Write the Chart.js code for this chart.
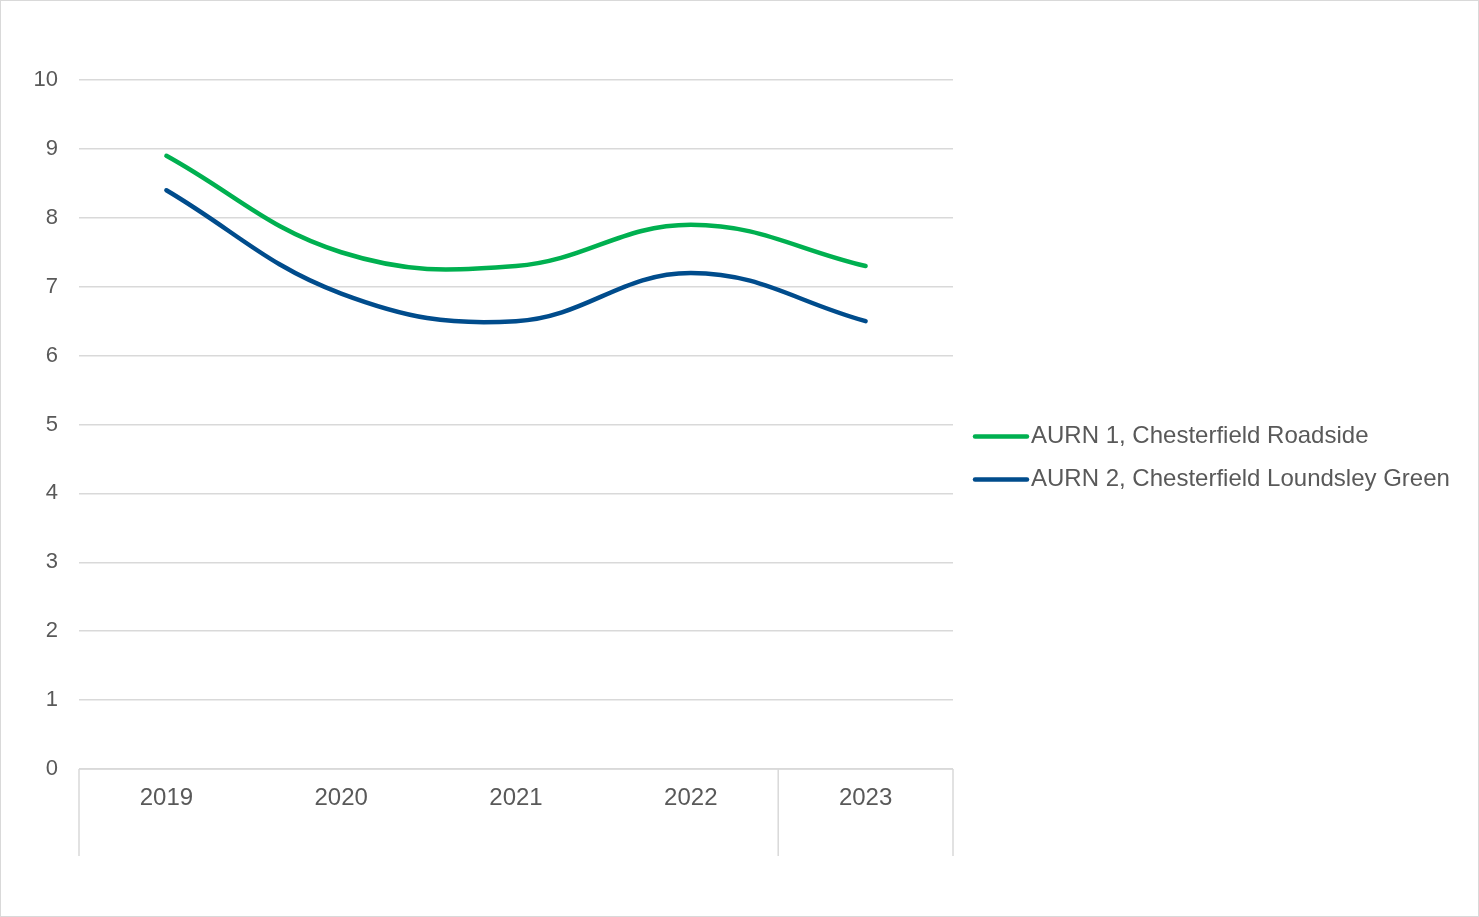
<!DOCTYPE html>
<html>
<head>
<meta charset="utf-8">
<script src="https://cdn.jsdelivr.net/npm/chart.js@4"></script>
<style>
  html, body { margin: 0; padding: 0; background: #fff; }
  #wrap { width: 1477px; height: 915px; border: 1px solid #d9d9d9; position: relative; }
</style>
</head>
<body>
<div id="wrap"><canvas id="myChart" width="1477" height="915"></canvas></div>
<script>
const years = ["2019", "2020", "2021", "2022", "2023"];
const roadside = [8.9, 7.5, 7.3, 7.9, 7.3];
const loundsley = [8.4, 6.9, 6.5, 7.2, 6.5];
const seriesNames = ["AURN 1, Chesterfield Roadside", "AURN 2, Chesterfield Loundsley Green"];
const seriesColors = ["#00b050", "#004c8c"];
const yTicks = [0, 1, 2, 3, 4, 5, 6, 7, 8, 9, 10];

const FONT = "'Liberation Sans', Arial, sans-serif";
const GREY = "#d9d9d9";

// axis decorations + legend drawn by hand, Excel style
const excelBits = {
  id: 'excelBits',
  afterDraw(chart) {
    const ctx = chart.ctx;
    const x = chart.scales.x;
    const area = chart.chartArea;
    const bottom = area.bottom + 87;
    const step = x.getPixelForValue(1) - x.getPixelForValue(0);
    const edges = [area.left, x.getPixelForValue(3) + step / 2, area.right];
    ctx.save();
    ctx.strokeStyle = GREY;
    ctx.lineWidth = 1.5;
    ctx.beginPath();
    ctx.moveTo(area.left, area.bottom);
    ctx.lineTo(area.right, area.bottom);
    edges.forEach(px => {
      ctx.moveTo(px, area.bottom);
      ctx.lineTo(px, bottom);
    });
    ctx.stroke();

    // legend
    const lx = area.right + 20;
    const mid = (chart.height) / 2;
    ctx.font = "24px " + FONT;
    ctx.textBaseline = "middle";
    ctx.fillStyle = "#595959";
    chart.data.datasets.forEach((ds, i) => {
      const y = mid - 22 + i * 43;
      ctx.strokeStyle = ds.borderColor;
      ctx.lineWidth = 4.5;
      ctx.lineCap = "round";
      ctx.beginPath();
      ctx.moveTo(lx + 2, y);
      ctx.lineTo(lx + 54, y);
      ctx.stroke();
      ctx.fillText(ds.label, lx + 58, y);
    });
    ctx.restore();
  }
};

new Chart(document.getElementById('myChart'), {
  type: 'line',
  data: {
    labels: years,
    datasets: [
      { label: seriesNames[0], data: roadside, borderColor: seriesColors[0] },
      { label: seriesNames[1], data: loundsley, borderColor: seriesColors[1] }
    ]
  },
  options: {
    responsive: false,
    animation: false,
    layout: { padding: { top: 79, left: 0, right: 525, bottom: 0 } },
    elements: {
      line: { borderWidth: 4.5, tension: 0.4, borderCapStyle: 'round', fill: false },
      point: { radius: 0 }
    },
    plugins: {
      legend: { display: false },
      tooltip: { enabled: false }
    },
    scales: {
      x: {
        offset: true,
        grid: { display: false, drawTicks: false },
        border: { display: false },
        ticks: { color: "#595959", font: { family: FONT, size: 24 }, padding: 15, maxRotation: 0 },
        afterFit(scale) { scale.height = 147; }
      },
      y: {
        min: 0, max: 10,
        afterBuildTicks(scale) { scale.ticks = yTicks.map(v => ({ value: v })); },
        grid: { color: GREY, lineWidth: 1.5, drawTicks: false },
        border: { display: false },
        ticks: { color: "#595959", font: { family: FONT, size: 22 }, padding: 21 },
        afterFit(scale) { scale.width = 78; }
      }
    }
  },
  plugins: [excelBits]
});
</script>
</body>
</html>
